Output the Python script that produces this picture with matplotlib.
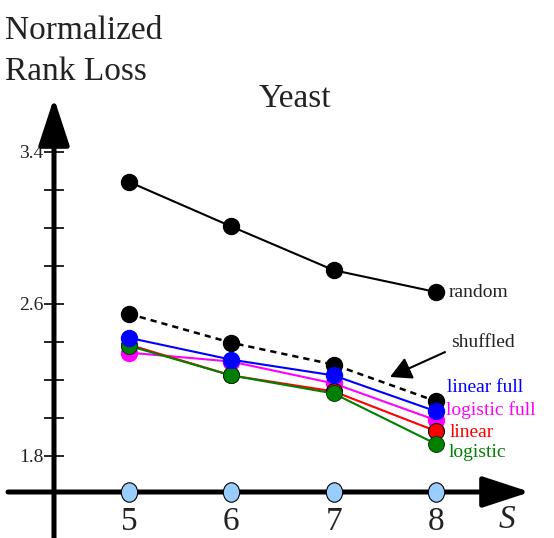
import matplotlib
matplotlib.use('Agg')
import matplotlib.pyplot as plt
from matplotlib.path import Path
from matplotlib.transforms import Affine2D

plt.rcParams['font.family'] = ['Liberation Serif', 'DejaVu Serif']

# data
S = [5, 6, 7, 8]
random_loss = [3.243, 3.008, 2.778, 2.663]
shuffled_loss = [2.548, 2.396, 2.281, 2.088]
linear_full = [2.422, 2.307, 2.224, 2.035]
logistic_full = [2.344, 2.297, 2.182, 1.988]
linear = [2.386, 2.224, 2.140, 1.931]
logistic = [2.380, 2.224, 2.129, 1.863]

ytick_vals = [1.8, 2.0, 2.2, 2.4, 2.6, 2.8, 3.0, 3.2, 3.4]
ytick_labels = ['1.8', '', '', '', '2.6', '', '', '', '3.4']

text_col = '#222222'

fig = plt.figure(figsize=(5.54, 5.38), dpi=100)
ax = fig.add_axes([0, 0, 1, 1])
ax.set_xlim(3.7412, 9.1514)
ax.set_ylim(1.3684, 4.2)
ax.patch.set_alpha(0)

# axis positions (data coords)
x_yaxis = 4.2686
y_xaxis = 1.6105

for side in ['top', 'right']:
    ax.spines[side].set_visible(False)
ax.spines['left'].set_position(('data', x_yaxis))
ax.spines['bottom'].set_position(('data', y_xaxis))
ax.spines['left'].set_visible(False)
ax.spines['bottom'].set_visible(False)

ax.set_yticks(ytick_vals)
ax.set_yticklabels(ytick_labels)
ax.tick_params(axis='y', direction='inout', length=14, width=1.2, color='black',
               labelsize=14, labelcolor=text_col, pad=0.5)
ax.set_xticks(S)
ax.set_xticklabels([str(s) for s in S])
ax.tick_params(axis='x', length=0, labelsize=24, labelcolor=text_col, pad=10.5)

# axis lines with arrow heads
arrow_style = '-|>,head_length=2.9,head_width=0.95'
ax.annotate('', xy=(54, 440), xytext=(54, -5), xycoords='figure pixels',
            textcoords='figure pixels',
            arrowprops=dict(arrowstyle=arrow_style, lw=3.6, color='black',
                            shrinkA=0, shrinkB=0, mutation_scale=10))
ax.annotate('', xy=(530, 46), xytext=(8, 46), xycoords='figure pixels',
            textcoords='figure pixels',
            arrowprops=dict(arrowstyle=arrow_style, lw=3.6, color='black',
                            shrinkA=0, shrinkB=0, mutation_scale=10))

# series
ms = 11.5
ax.plot(S, random_loss, color='black', lw=1.5, marker='o', ms=ms, zorder=3)
ax.plot(S, shuffled_loss, color='black', lw=1.8, ls=(0, (2.5, 2)), marker='o', ms=ms, zorder=3)
ax.plot(S, logistic_full, color='#ff00ff', lw=1.5, marker='o', ms=ms, zorder=3)
ax.plot(S, linear, color='#ff0000', lw=1.5, marker='o', ms=ms, mec='black', mew=0.8, zorder=3)
ax.plot(S, logistic, color='#008000', lw=1.5, marker='o', ms=ms, mec='#003000', mew=0.6, zorder=3)
ax.plot(S, linear_full, color='#0000ff', lw=1.5, marker='o', ms=ms, zorder=3)

# light blue markers on the S axis
ellipse = Path.unit_circle().transformed(Affine2D().scale(0.84, 1.0))
ax.scatter(S, [y_xaxis] * len(S), marker=ellipse, s=14.0 ** 2, facecolor='#99ccff',
           edgecolor='black', linewidths=0.8, zorder=5, clip_on=False)

# series labels
lx = 8.126
ax.text(lx, 2.663, 'random', fontsize=14, color=text_col, va='center', ha='left')
ax.text(lx + 0.02, 2.395, 'shuffled', fontsize=14, color=text_col, va='center', ha='left')
ax.text(lx - 0.02, 2.163, 'linear full', fontsize=14, color='#0000ff', va='center', ha='left')
ax.text(lx - 0.03, 2.042, 'logistic full', fontsize=14, color='#ff00ff', va='center', ha='left')
ax.text(lx + 0.01, 1.926, 'linear', fontsize=14, color='#ff0000', va='center', ha='left')
ax.text(lx, 1.821, 'logistic', fontsize=14, color='#008000', va='center', ha='left')

# arrow pointing at the shuffled line
ax.annotate('', xy=(7.550, 2.216), xytext=(8.087, 2.347),
            arrowprops=dict(arrowstyle='-|>,head_length=1.3,head_width=0.7', lw=1.5,
                            color='black', shrinkA=0, shrinkB=0, mutation_scale=10))

# titles
W, H = 554, 538
fig.text(5 / W, 1 - 39 / H, 'Normalized', fontsize=24, color=text_col, ha='left', va='baseline')
fig.text(5 / W, 1 - 80 / H, 'Rank Loss', fontsize=24, color=text_col, ha='left', va='baseline')
fig.text(259 / W, 1 - 107 / H, 'Yeast', fontsize=24, color=text_col, ha='left', va='baseline')
fig.text(507 / W, 1 - 520 / H, 'S', fontsize=24, color=text_col, style='italic', ha='center', va='center')

fig.savefig('out.png', dpi=100)
